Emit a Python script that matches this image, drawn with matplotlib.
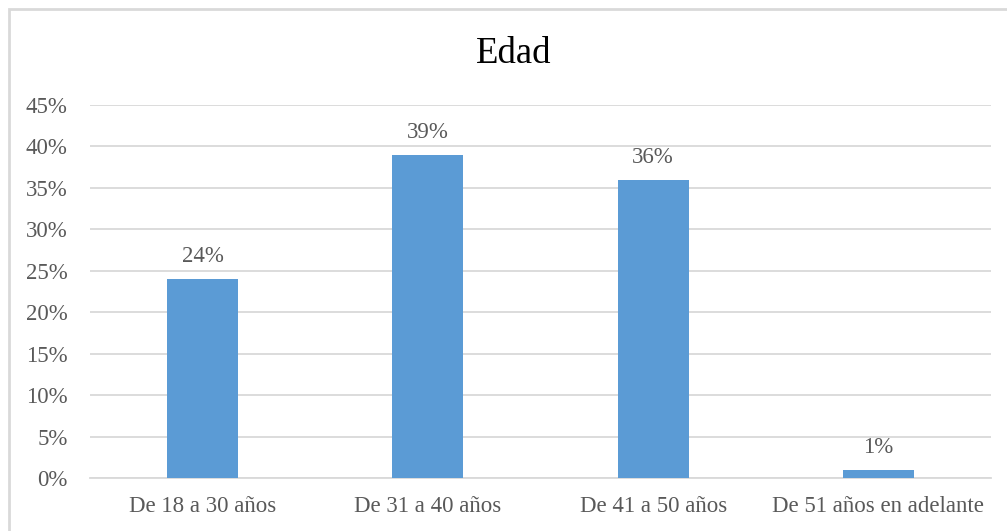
import matplotlib.pyplot as plt
from matplotlib.patches import Rectangle
from matplotlib.ticker import FuncFormatter, MultipleLocator

categories = ["De 18 a 30 años", "De 31 a 40 años", "De 41 a 50 años", "De 51 años en adelante"]
values = [24, 39, 36, 1]

bar_color = "#5B9BD5"
grid_color = "#D9D9D9"
text_color = "#595959"

plt.rcParams["font.family"] = ["Liberation Serif", "DejaVu Serif"]

W, H = 1007, 531
fig = plt.figure(figsize=(W / 100, H / 100), dpi=100)
fig.patch.set_facecolor("white")

# axes box in pixel terms: x 90..991, y 105..478 (from top)
ax = fig.add_axes([90 / W, 1 - 478 / H, 901 / W, 373 / H])

x = range(len(categories))
ax.bar(x, values, width=0.315, color=bar_color, zorder=3)

for xi, v in zip(x, values):
    ax.annotate(f"{v}%", (xi, v), xytext=(0, 12), textcoords="offset pixels",
                ha="center", va="bottom", fontsize=16.5, color=text_color)

ax.set_xlim(-0.5, len(categories) - 0.5)
ax.set_ylim(0, 45)
ax.yaxis.set_major_locator(MultipleLocator(5))
ax.yaxis.set_major_formatter(FuncFormatter(lambda v, _: f"{v:.0f}%"))
ax.set_xticks(list(x))
ax.set_xticklabels(categories)

ax.grid(axis="y", color=grid_color, linewidth=1.3, zorder=0)
ax.tick_params(axis="both", length=0, labelsize=16.5, labelcolor=text_color)
ax.tick_params(axis="y", pad=16)
ax.tick_params(axis="x", pad=13)
for side in ["top", "right", "left"]:
    ax.spines[side].set_visible(False)
ax.spines["bottom"].set_color(grid_color)
ax.spines["bottom"].set_linewidth(1.3)

fig.text(514 / W, 1 - 54 / H, "Edad", ha="center", va="center",
         fontsize=26.5, color="black")

# chart area outline, running off the right and bottom edges
fig.patches.append(Rectangle((8.5 / W, -0.05), 1.05, 1.05 - 8.5 / H,
                             transform=fig.transFigure, fill=False,
                             edgecolor=grid_color, linewidth=2))

fig.savefig("out.png", dpi=100, facecolor="white")
